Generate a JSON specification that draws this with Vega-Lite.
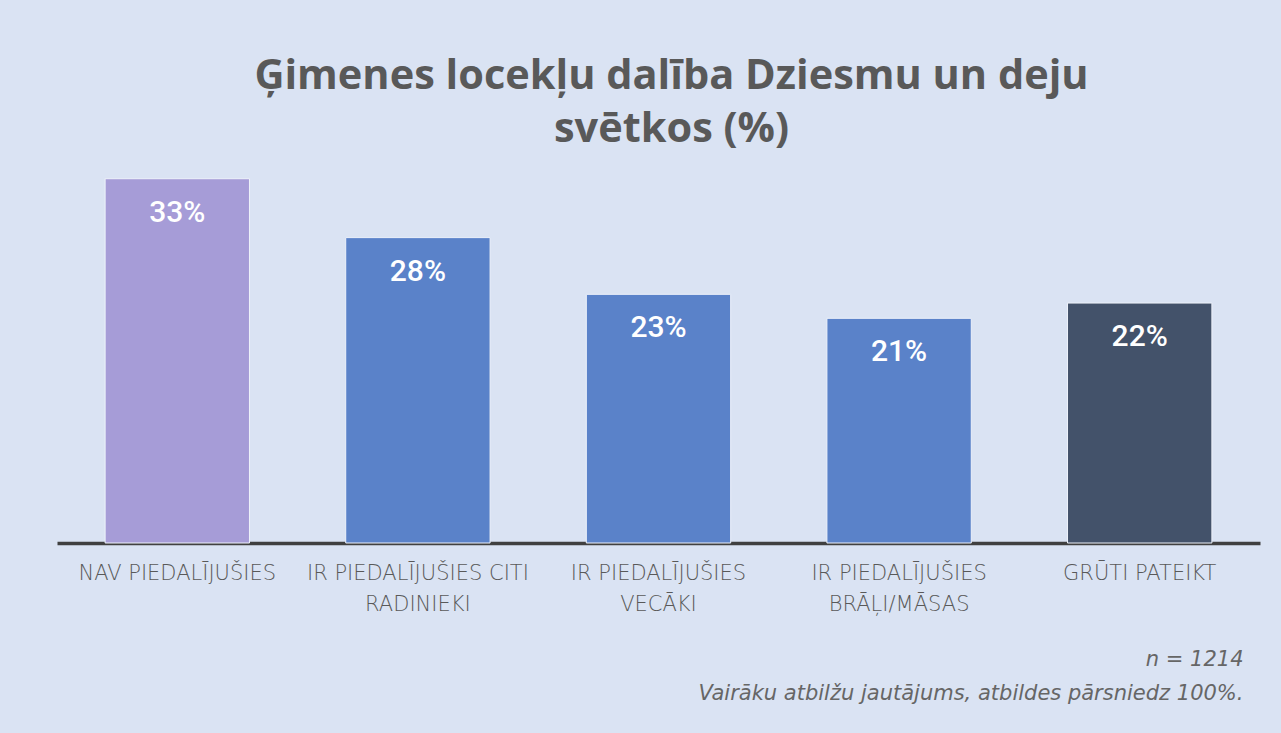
{
  "$schema": "https://vega.github.io/schema/vega-lite/v6.json",
  "autosize": {"type": "none"},
  "width": 1203,
  "height": 373,
  "padding": {"left": 57, "right": 21, "top": 170, "bottom": 190},
  "background": "#DAE3F3",
  "config": {"view": {"stroke": null}},
  "title": {
    "text": ["Ģimenes locekļu dalība Dziesmu un deju", "svētkos (%)"],
    "anchor": "middle",
    "dx": 13,
    "offset": 20,
    "font": "Open Sans",
    "fontSize": 41.5,
    "fontWeight": "bold",
    "color": "#595959",
    "lineHeight": 53
  },
  "data": {
    "values": [
      {"kategorija": "NAV PIEDALĪJUŠIES", "grupa": "nav", "daļa": 0.334},
      {"kategorija": "IR PIEDALĪJUŠIES CITI|RADINIEKI", "grupa": "ir", "daļa": 0.280},
      {"kategorija": "IR PIEDALĪJUŠIES|VECĀKI", "grupa": "ir", "daļa": 0.228},
      {"kategorija": "IR PIEDALĪJUŠIES|BRĀĻI/MĀSAS", "grupa": "ir", "daļa": 0.206},
      {"kategorija": "GRŪTI PATEIKT", "grupa": "grūti", "daļa": 0.220}
    ]
  },
  "encoding": {
    "x": {
      "field": "kategorija",
      "type": "nominal",
      "sort": null,
      "scale": {"paddingInner": 0.4, "paddingOuter": 0.2},
      "axis": {
        "labelAngle": 0,
        "labelExpr": "split(datum.label, '|')",
        "labelFont": "DejaVu Sans",
        "labelFontSize": 21,
        "labelFontWeight": 200,
        "labelColor": "#595959",
        "labelLineHeight": 31,
        "labelPadding": 19,
        "labelBaseline": "top",
        "labelLimit": 500,
        "ticks": false,
        "domainColor": "#404040",
        "domainWidth": 3.5,
        "title": ["n = 1214", "Vairāku atbilžu jautājums, atbildes pārsniedz 100%."],
        "titleFont": "DejaVu Sans",
        "titleFontSize": 21,
        "titleFontStyle": "italic",
        "titleFontWeight": 200,
        "titleColor": "#666666",
        "titleLineHeight": 34,
        "titleAnchor": "end",
        "titleAlign": "right",
        "titleX": 1186,
        "titleY": 105
      }
    },
    "y": {
      "field": "daļa",
      "type": "quantitative",
      "scale": {"domain": [0, 0.342], "nice": false},
      "axis": null
    }
  },
  "layer": [
    {
      "mark": {"type": "bar", "stroke": "#EEF2FA", "strokeWidth": 1},
      "encoding": {
        "color": {
          "field": "grupa",
          "type": "nominal",
          "scale": {"domain": ["nav", "ir", "grūti"], "range": ["#A69CD7", "#5A82C9", "#43526A"]},
          "legend": null
        }
      }
    },
    {
      "mark": {"type": "text", "baseline": "middle", "dy": 34, "font": "Roboto", "fontSize": 30, "fontWeight": 500, "letterSpacing": 2, "color": "#FFFFFF"},
      "encoding": {
        "text": {"field": "daļa", "type": "quantitative", "format": ".0%"}
      }
    }
  ]
}
